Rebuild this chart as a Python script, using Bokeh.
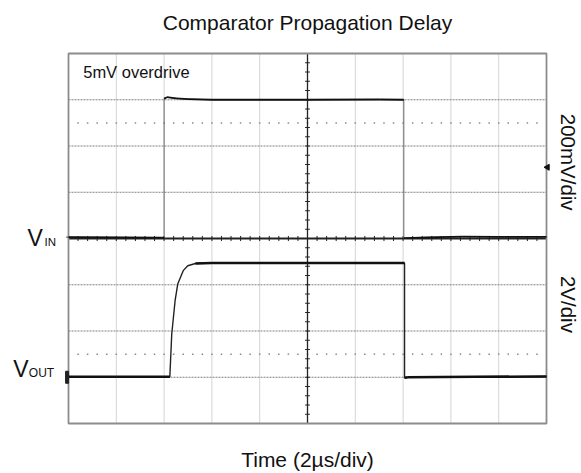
import numpy as np
from bokeh.plotting import figure
from bokeh.models import Range1d, Label
from bokeh.embed import file_html
from bokeh.resources import INLINE

# ---------------- data ----------------
# time in microseconds (2 us/div, 10 divisions)
vin_t = [0.0, 2.0, 3.9, 4.0, 4.0, 4.12, 4.5, 5.0, 6.0, 10.0, 13.0, 14.03, 14.03, 14.1, 15.0, 16.5, 18.0, 20.0]
vin_mv = [6, 5, 4, 4, 605, 611, 606, 603, 600, 600, 601, 600, 2, 2, 5, 8, 7, 7]          # 200 mV/div

vout_t = [0.0, 2.0, 4.24, 4.32, 4.46, 4.57, 4.80, 4.99, 5.31, 6.0, 10.0, 14.06, 14.06, 14.2, 17.0, 20.0]
vout_v = [0.02, 0.02, 0.02, 1.87, 3.31, 4.03, 4.61, 4.82, 4.92, 4.94, 4.94, 4.94, -0.02, 0.0, 0.02, 0.03]  # 2 V/div

time_ticks = [2, 4, 6, 8, 12, 14, 16, 18]
vin_ticks = [-600, -400, -200, 200, 400, 600]

title_text = "Comparator Propagation Delay"
xlabel_text = "Time (2\u00b5s/div)"
vin_scale_text = "200mV/div"
vout_scale_text = "2V/div"
note_text = "5mV overdrive"

FONT = "Liberation Sans"

# ---------------- layout: whole canvas is the frame ----------------
W, H = 581, 473
BOX_L, BOX_R, BOX_T, BOX_B = 68, 546, 53, 423
T0, T1 = 0.0, 20.0
V0, V1 = -800.0, 800.0
O0, O1 = -2.0, 14.0
sx = (T1 - T0) / (BOX_R - BOX_L)
sy = (V1 - V0) / (BOX_B - BOX_T)
so = (O1 - O0) / (BOX_B - BOX_T)

p = figure(width=W, height=H,
           x_range=Range1d(T0 - BOX_L * sx, T1 + (W - BOX_R) * sx),
           y_range=Range1d(V0 - (H - BOX_B) * sy, V1 + BOX_T * sy),
           x_axis_type=None, y_axis_type=None,
           toolbar_location=None, output_backend="svg",
           min_border=0, min_border_left=0, min_border_right=0,
           min_border_top=0, min_border_bottom=0)
p.extra_y_ranges = {"vout": Range1d(O0 - (H - BOX_B) * so, O1 + BOX_T * so)}
p.outline_line_color = None
p.background_fill_color = "white"
p.border_fill_color = "white"

# grid
n_t = len(time_ticks)
p.segment(x0=time_ticks, y0=[V0] * n_t, x1=time_ticks, y1=[V1] * n_t,
          line_color="#a8a8a8", line_dash="1 1", line_width=1)
n_v = len(vin_ticks)
p.segment(x0=[T0] * n_v, y0=vin_ticks, x1=[T1] * n_v, y1=vin_ticks,
          line_color="#808080", line_dash="2 1", line_width=1)

# dotted cursor rows
minor_x = np.arange(0.4, 20.0, 0.4)
p.scatter(x=minor_x, y=np.full(len(minor_x), 500.0), marker="square", size=1.5,
          color="#8a8a8a", line_color=None)
p.scatter(x=minor_x, y=np.full(len(minor_x), 1.0), marker="square", size=1.5,
          color="#8a8a8a", line_color=None, y_range_name="vout")

# center axes with minor ticks
p.segment(x0=[10], y0=[V0], x1=[10], y1=[V1], line_color="#222222", line_width=1.3)
p.segment(x0=[T0], y0=[0], x1=[T1], y1=[0], line_color="#222222", line_width=1.8)
p.segment(x0=minor_x, y0=np.full(len(minor_x), -11.0), x1=minor_x, y1=np.full(len(minor_x), 11.0),
          line_color="#222222", line_width=1)
minor_y = np.arange(-760, 761, 40)
p.segment(x0=np.full(len(minor_y), 9.9), y0=minor_y, x1=np.full(len(minor_y), 10.1), y1=minor_y,
          line_color="#222222", line_width=1)

# screen box
p.quad(left=[T0], right=[T1], bottom=[V0], top=[V1], fill_color=None,
       line_color="#8c8c8c", line_width=1.8)

# traces: thin base line, thick flat parts
p.line(vin_t, vin_mv, line_color="#6a6a6a", line_width=1)
vt = np.array(vin_t); vm = np.array(vin_mv, dtype=float)
flat = np.abs(np.diff(vm)) < 50
p.segment(x0=vt[:-1][flat], y0=vm[:-1][flat], x1=vt[1:][flat], y1=vm[1:][flat],
          line_color="#111111", line_width=1.8)

p.line(vout_t, vout_v, line_color="#222222", line_width=1.4, y_range_name="vout")
ot = np.array(vout_t); ov = np.array(vout_v, dtype=float)
flat2 = np.abs(np.diff(ov)) < 0.05
p.segment(x0=ot[:-1][flat2], y0=ov[:-1][flat2], x1=ot[1:][flat2], y1=ov[1:][flat2],
          line_color="#111111", line_width=2.6, y_range_name="vout")

# channel / trigger markers
p.rect(x=[-0.06], y=[0.0], width=3, height=12, width_units="screen", height_units="screen",
       color="#222222", y_range_name="vout")
p.segment(x0=[-0.1], y0=[6], x1=[0.0], y1=[6], line_color="#444444", line_width=1)
p.scatter(x=[20.04], y=[308], marker="triangle", size=6, angle=np.pi / 2, color="#111111")

# texts
def lab(x, y, text, size, **kw):
    p.add_layout(Label(x=x, y=y, text=text, text_font=FONT, text_font_size=size,
                       text_color="#111111", **kw))

lab(10, 936, title_text, "21px", text_align="center", text_baseline="alphabetic")
lab(10, -955, xlabel_text, "21px", text_align="center", text_baseline="alphabetic")
lab(0.615, 720, note_text, "16.5px", text_align="left", text_baseline="alphabetic")
lab(20.91, 330, vin_scale_text, "20.5px", angle=-np.pi / 2, text_align="center", text_baseline="alphabetic")
lab(20.91, -285, vout_scale_text, "20.5px", angle=-np.pi / 2, text_align="center", text_baseline="alphabetic")
# V_IN / V_OUT channel labels
lab(-1.715, 4, "V", "23px", text_align="left", text_baseline="alphabetic")
lab(-1.0, -13, "IN", "11.5px", text_align="left", text_baseline="alphabetic")
lab(-2.31, 0.35, "V", "23px", text_align="left", text_baseline="alphabetic", y_range_name="vout")
lab(-1.66, 0.18, "OUT", "12px", text_align="left", text_baseline="alphabetic", y_range_name="vout")

open("out.html", "w").write(file_html(p, INLINE))
